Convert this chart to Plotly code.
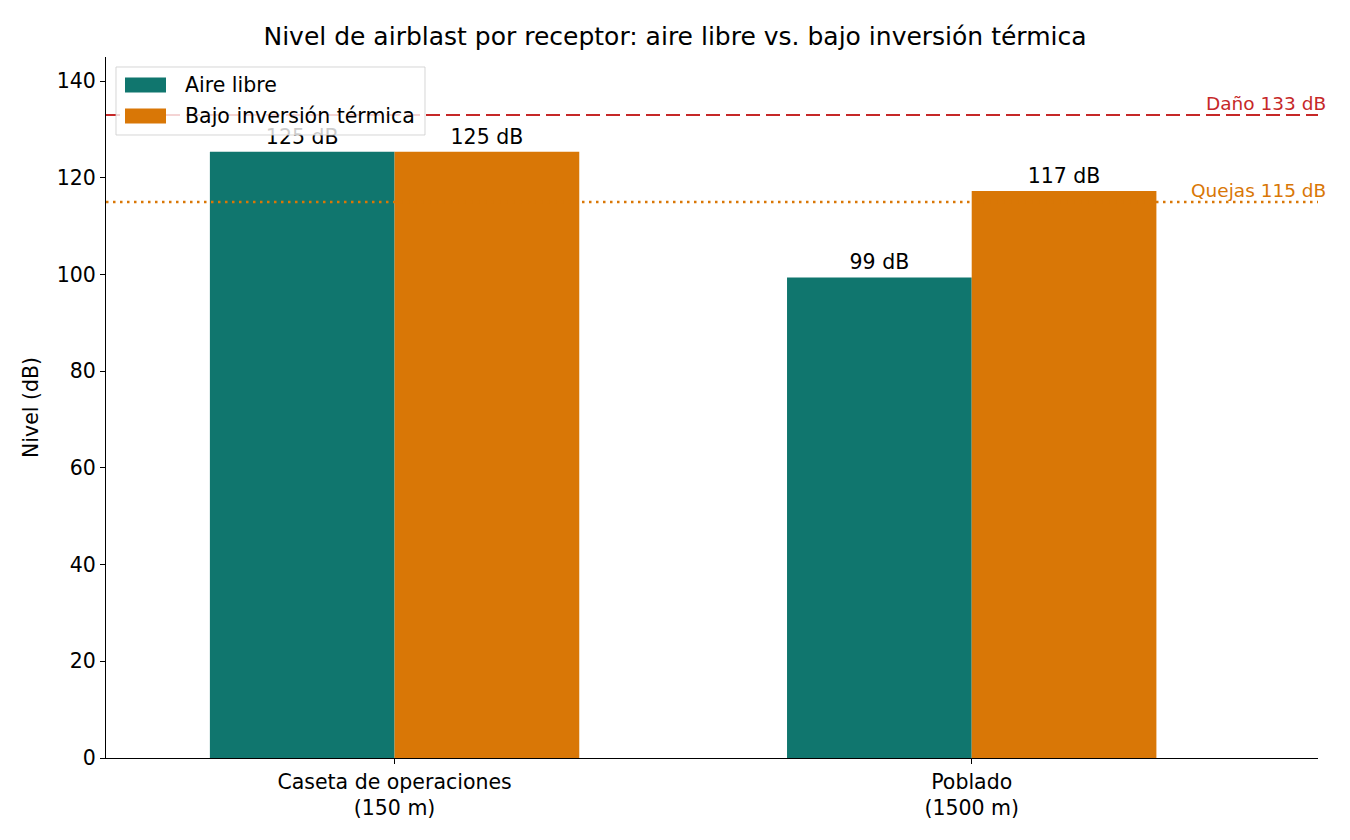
import plotly.graph_objects as go

categories = ["Caseta de operaciones<br>(150 m)", "Poblado<br>(1500 m)"]
series_names = ["Aire libre", "Bajo inversión térmica"]
aire_libre = [125.4, 99.4]
bajo_inversion = [125.4, 117.3]
umbral_dano = 133
umbral_quejas = 115
yticks = [0, 20, 40, 60, 80, 100, 120, 140]

TEAL = "#10766e"
ORANGE = "#d97706"
RED = "#c62828"
FONT = "DejaVu Sans"
FS = 20.5
W, H = 1350, 840
ML, MR, MT, MB = 106, 32, 57, 82

fig = go.Figure()
for name, vals, col in [(series_names[0], aire_libre, TEAL), (series_names[1], bajo_inversion, ORANGE)]:
    fig.add_trace(go.Bar(
        x=categories, y=vals, name=name, marker_color=col, marker_line_width=0,
        text=[f"{v:.0f} dB" for v in vals], textposition="outside",
        textfont=dict(size=FS, color="black"), cliponaxis=False, showlegend=False,
    ))

fig.add_shape(type="line", xref="x domain", yref="y", x0=0, x1=1, y0=umbral_dano, y1=umbral_dano,
              line=dict(color=RED, width=2, dash="14px,6px"), layer="above")
fig.add_shape(type="line", xref="x domain", yref="y", x0=0, x1=1, y0=umbral_quejas, y1=umbral_quejas,
              line=dict(color=ORANGE, width=2.5, dash="2.5px,4.5px"), layer="above")
fig.add_annotation(xref="paper", yref="y", x=1.008, y=umbral_dano, text=f"Daño {umbral_dano} dB",
                   showarrow=False, xanchor="right", yanchor="bottom", yshift=-1,
                   font=dict(size=18.5, color=RED, family=FONT))
fig.add_annotation(xref="paper", yref="y", x=1.008, y=umbral_quejas, text=f"Quejas {umbral_quejas} dB",
                   showarrow=False, xanchor="right", yanchor="bottom", yshift=-1,
                   font=dict(size=18.5, color=ORANGE, family=FONT))

# custom legend (matplotlib-like) in paper coordinates
pw, ph = W - ML - MR, H - MT - MB
def px(x):
    return (x - ML) / pw
def py(y):
    return (H - MB - y) / ph

fig.add_shape(type="rect", xref="paper", yref="paper", x0=px(116), x1=px(425), y0=py(135), y1=py(67),
              fillcolor="rgba(255,255,255,0.8)", line=dict(color="rgba(204,204,204,0.8)", width=1),
              layer="above")
for i, (name, col) in enumerate(zip(series_names, [TEAL, ORANGE])):
    yc = 85 + 31 * i
    fig.add_shape(type="rect", xref="paper", yref="paper", x0=px(125), x1=px(166),
                  y0=py(yc + 7.5), y1=py(yc - 7.5), fillcolor=col, line=dict(width=0), layer="above")
    fig.add_annotation(xref="paper", yref="paper", x=px(183), y=py(yc), text=name, showarrow=False,
                       xanchor="left", yanchor="middle", font=dict(size=FS, family=FONT, color="black"))

fig.update_layout(
    width=W, height=H,
    margin=dict(l=ML, r=MR, t=MT, b=MB),
    paper_bgcolor="white", plot_bgcolor="white",
    font=dict(family=FONT, size=FS, color="black"),
    title=dict(text="Nivel de airblast por receptor: aire libre vs. bajo inversión térmica",
               x=0.5, xanchor="center", y=1 - 36 / 840, yanchor="middle",
               font=dict(size=25, family=FONT)),
    barmode="group", bargap=0.36, bargroupgap=0,
    showlegend=False,
)
fig.update_xaxes(range=[-0.5, 1.6], showline=True, linecolor="black", linewidth=1.2,
                 ticks="outside", ticklen=5, tickcolor="black", showgrid=False,
                 tickfont=dict(size=FS))
fig.update_yaxes(range=[0, 145], tickvals=yticks, showline=True, linecolor="black", linewidth=1.2,
                 ticks="outside", ticklen=5, tickcolor="black", showgrid=False, zeroline=False,
                 title=dict(text="Nivel (dB)", font=dict(size=FS), standoff=12),
                 tickfont=dict(size=FS))

fig.write_html("out.html")
